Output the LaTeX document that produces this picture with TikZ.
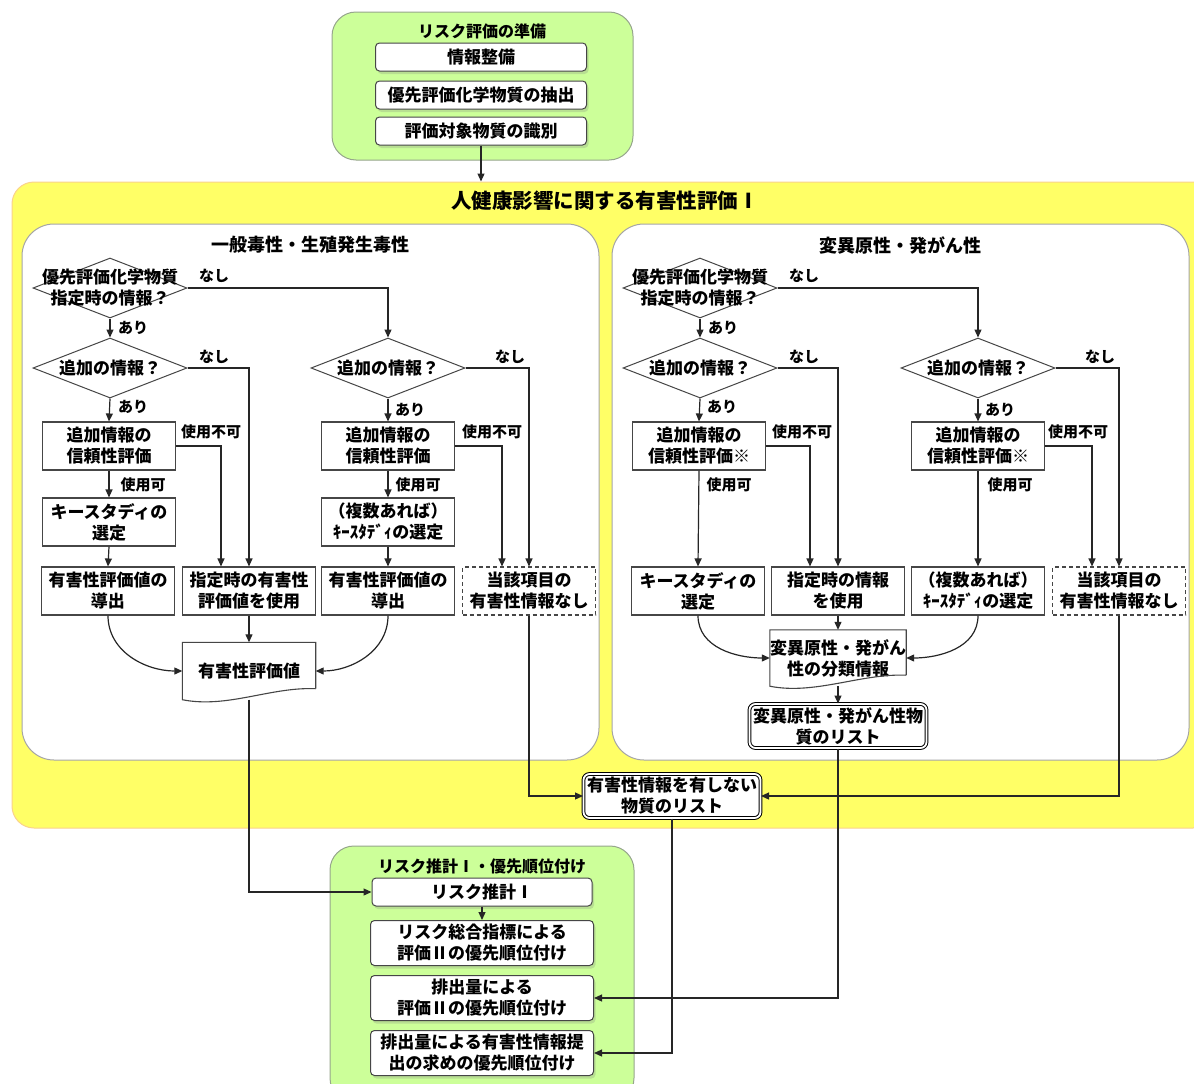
\documentclass[tikz,border=0pt]{standalone}
\usepackage{fontspec}
\setmainfont{Noto Sans CJK JP}
\usetikzlibrary{positioning, arrows.meta, shapes.geometric, shadows, calc}

\definecolor{prepgreen}{RGB}{204,255,153}
\definecolor{prepedge}{RGB}{150,165,140}
\definecolor{hazyellow}{RGB}{255,255,102}
\definecolor{hazedge}{RGB}{250,210,140}
\definecolor{boxgray}{RGB}{70,70,70}
\definecolor{panelgray}{RGB}{165,165,165}

\tikzset{
    boxfont/.style={font=\fontsize{17}{21}\selectfont\bfseries},
    proc/.style={boxfont, draw=boxgray, line width=1.1pt, fill=white,
        minimum width=133pt, minimum height=48pt, inner sep=0pt, align=center},
    nodata/.style={proc, dash pattern=on 4pt off 3pt},
    dec/.style={diamond, draw=boxgray, line width=1pt, fill=white,
        minimum width=154pt, minimum height=60pt, inner sep=0pt},
    dectext/.style={boxfont, align=center, inner sep=0pt},
    doc/.style={boxfont, fill=white, minimum width=133pt, inner sep=0pt, align=center},
    docline/.style={draw=boxgray, line width=1.1pt},
    listbox/.style={boxfont, draw=black, double, double distance=1.8pt, line width=1pt,
        rounded corners=6pt, fill=white, minimum width=177pt, minimum height=44pt,
        inner sep=0pt, align=center},
    stepbox/.style={boxfont, draw=boxgray, line width=1pt, fill=white, rounded corners=4pt,
        minimum width=211pt, inner sep=0pt, align=center,
        drop shadow={opacity=0.25, shadow xshift=2pt, shadow yshift=-3pt}},
    grnbox/.style={draw=prepedge, line width=1pt, fill=prepgreen, rounded corners=24pt},
    ylwbox/.style={draw=hazedge, line width=1pt, fill=hazyellow, rounded corners=22pt},
    panel/.style={draw=panelgray, line width=1pt, fill=white, rounded corners=32pt,
        minimum width=577pt, minimum height=536pt},
    ttl/.style={font=\fontsize{16}{18}\selectfont\bfseries, inner sep=0pt},
    subttl/.style={font=\fontsize{18}{20}\selectfont\bfseries, inner sep=0pt},
    bigttl/.style={font=\fontsize{20.5}{22}\selectfont\bfseries, inner sep=0pt},
    cond/.style={font=\fontsize{15}{17}\selectfont\bfseries, inner sep=0pt},
    arr/.style={-{Triangle[length=8pt,width=7pt]}, line width=1.2pt, draw=black!85}
}

\begin{document}
\begin{tikzpicture}[x=1pt, y=-1pt]
    \useasboundingbox (0,0) rectangle (1194,1084);
    \clip (0,0) rectangle (1194,1084);

    % containers
    \node[grnbox, minimum width=301pt, minimum height=148pt] (prep) at (482.5,86) {};
    \node[ylwbox, minimum width=1203pt, minimum height=646pt] (haz) at (613.5,505) {};
    \node[panel] (gen) at (310.5,492) {};
    \node[panel] (mut) at (900.5,492) {};
    \node[grnbox, minimum width=304pt, minimum height=256pt] (estbox) at (482,974) {};

    % titles
    \node[ttl] (prepttl) at (482,31) {リスク評価の準備};
    \node[bigttl] (hazttl) at (605,201) {人健康影響に関する有害性評価Ⅰ};
    \node[subttl] (genttl) at (310,245) {一般毒性・生殖発生毒性};
    \node[subttl] (mutttl) at (900,245) {変異原性・発がん性};
    \node[ttl] (estttl) at (482,866) {リスク推計Ⅰ・優先順位付け};

    % preparation steps
    \foreach \nm/\y/\t in {
        info/57/情報整備,
        extr/95/優先評価化学物質の抽出,
        ident/131/評価対象物質の識別}{
        \node[stepbox, minimum height=28pt] (\nm) at (481,\y) {\t};
    }

    % decisions
    \foreach \nm/\x/\y/\t in {
        d1/110/288/{優先評価化学物質\\指定時の情報？},
        d2/110/368/{追加の情報？},
        d3/388/368/{追加の情報？},
        d4/700/288/{優先評価化学物質\\指定時の情報？},
        d5/700/368/{追加の情報？},
        d6/978/368/{追加の情報？}}{
        \node[dec, label={[dectext]center:\t}] (\nm) at (\x,\y) {};
    }

    % process boxes
    \foreach \nm/\x/\y/\t in {
        ev1/109/446/{追加情報の\\信頼性評価},
        ks1/109/522/{キースタディの\\選定},
        dv1/108/591/{有害性評価値の\\導出},
        use1/249/591/{指定時の有害性\\評価値を使用},
        ev2/388/446/{追加情報の\\信頼性評価},
        ks2/388/522/{（複数あれば）\\ｷｰｽﾀﾃﾞｨの選定},
        dv2/388/591/{有害性評価値の\\導出},
        ev3/699/446/{追加情報の\\信頼性評価※},
        ks3/698/591/{キースタディの\\選定},
        use2/838/591/{指定時の情報\\を使用},
        ev4/978/446/{追加情報の\\信頼性評価※},
        ks4/978/591/{（複数あれば）\\ｷｰｽﾀﾃﾞｨの選定}}{
        \node[proc] (\nm) at (\x,\y) {\t};
    }
    \node[nodata] (nd1) at (529,591) {当該項目の\\有害性情報なし};
    \node[nodata] (nd2) at (1119,591) {当該項目の\\有害性情報なし};

    % documents
    \node[doc, minimum height=57pt] (doc1) at (249,671) {有害性評価値};
    \node[doc, minimum height=56pt] (doc2) at (838,658) {変異原性・発がん\\性の分類情報};
    \foreach \d in {doc1, doc2}{
        \draw[docline] ([yshift=11pt]\d.south east) -- (\d.north east) -- (\d.north west)
            -- (\d.south west) .. controls +(45,9) and +(-45,-2) .. ([yshift=11pt]\d.south east);
    }

    % lists
    \node[listbox] (mlist) at (838,726) {変異原性・発がん性物\\質のリスト};
    \node[listbox] (nolist) at (672,796) {有害性情報を有しない\\物質のリスト};

    % risk estimation steps
    \node[stepbox, minimum width=220pt, minimum height=28pt] (est) at (482,892) {リスク推計Ⅰ};
    \foreach \nm/\y/\t in {
        rank1/943/{リスク総合指標による\\評価Ⅱの優先順位付け},
        rank2/998/{排出量による\\評価Ⅱの優先順位付け},
        rank3/1053/{排出量による有害性情報提\\出の求めの優先順位付け}}{
        \node[stepbox, minimum width=223pt, minimum height=45pt] (\nm) at (482,\y) {\t};
    }

    % branch labels
    \foreach \nm/\x/\y/\t in {
        c1/214/276/なし, c2/133/328/あり, c3/214/357/なし, c4/133/407/あり,
        c5/211/432/使用不可, c6/143/485/使用可,
        c7/510/357/なし, c8/410/410/あり, c9/492/432/使用不可, c10/418/485/使用可,
        c11/804/276/なし, c12/723/328/あり, c13/804/357/なし, c14/722/407/あり,
        c15/802/432/使用不可, c16/729/485/使用可,
        c17/1100/357/なし, c18/1000/410/あり, c19/1078/432/使用不可, c20/1010/485/使用可}{
        \node[cond] (\nm) at (\x,\y) {\t};
    }

    % straight down
    \foreach \a/\b in {d1/d2, d2/ev1, ev1/ks1, ks1/dv1, d3/ev2, ev2/ks2, ks2/dv2, use1/doc1,
        d4/d5, d5/ev3, ev3/ks3, d6/ev4, ev4/ks4, use2/doc2, doc2/mlist}{
        \draw[arr] (\a.south) -- (\b.north);
    }

    % side branches
    \draw[arr] (d1.east) -| (d3.north);
    \draw[arr] (d2.east) -| (use1.north);
    \draw[arr] (ev1.east) -| ([xshift=-28pt]use1.north);
    \draw[arr] (d3.east) -| (nd1.north);
    \draw[arr] (ev2.east) -| ([xshift=-27pt]nd1.north);
    \draw[arr] (d4.east) -| (d6.north);
    \draw[arr] (d5.east) -| (use2.north);
    \draw[arr] (ev3.east) -| ([xshift=-28pt]use2.north);
    \draw[arr] (d6.east) -| (nd2.north);
    \draw[arr] (ev4.east) -| ([xshift=-27pt]nd2.north);

    % merge into documents
    \draw[arr] (dv1.south) to[out=-90, in=180] (doc1.west);
    \draw[arr] (dv2.south) to[out=-90, in=0] (doc1.east);
    \draw[arr] (ks3.south) to[out=-90, in=180] (doc2.west);
    \draw[arr] (ks4.south) to[out=-90, in=0] (doc2.east);

    % between blocks
    \draw[arr] (ident.south) -- (ident.south |- haz.north);
    \draw[arr] (doc1.south) |- (est.west);
    \draw[arr] (nd1.south) |- (nolist.west);
    \draw[arr] (nd2.south) |- (nolist.east);
    \draw[arr] (mlist.south) |- (rank2.east);
    \draw[arr] (nolist.south) |- (rank3.east);
    \draw[arr] (est.south) -- (rank1.north);
\end{tikzpicture}
\end{document}
